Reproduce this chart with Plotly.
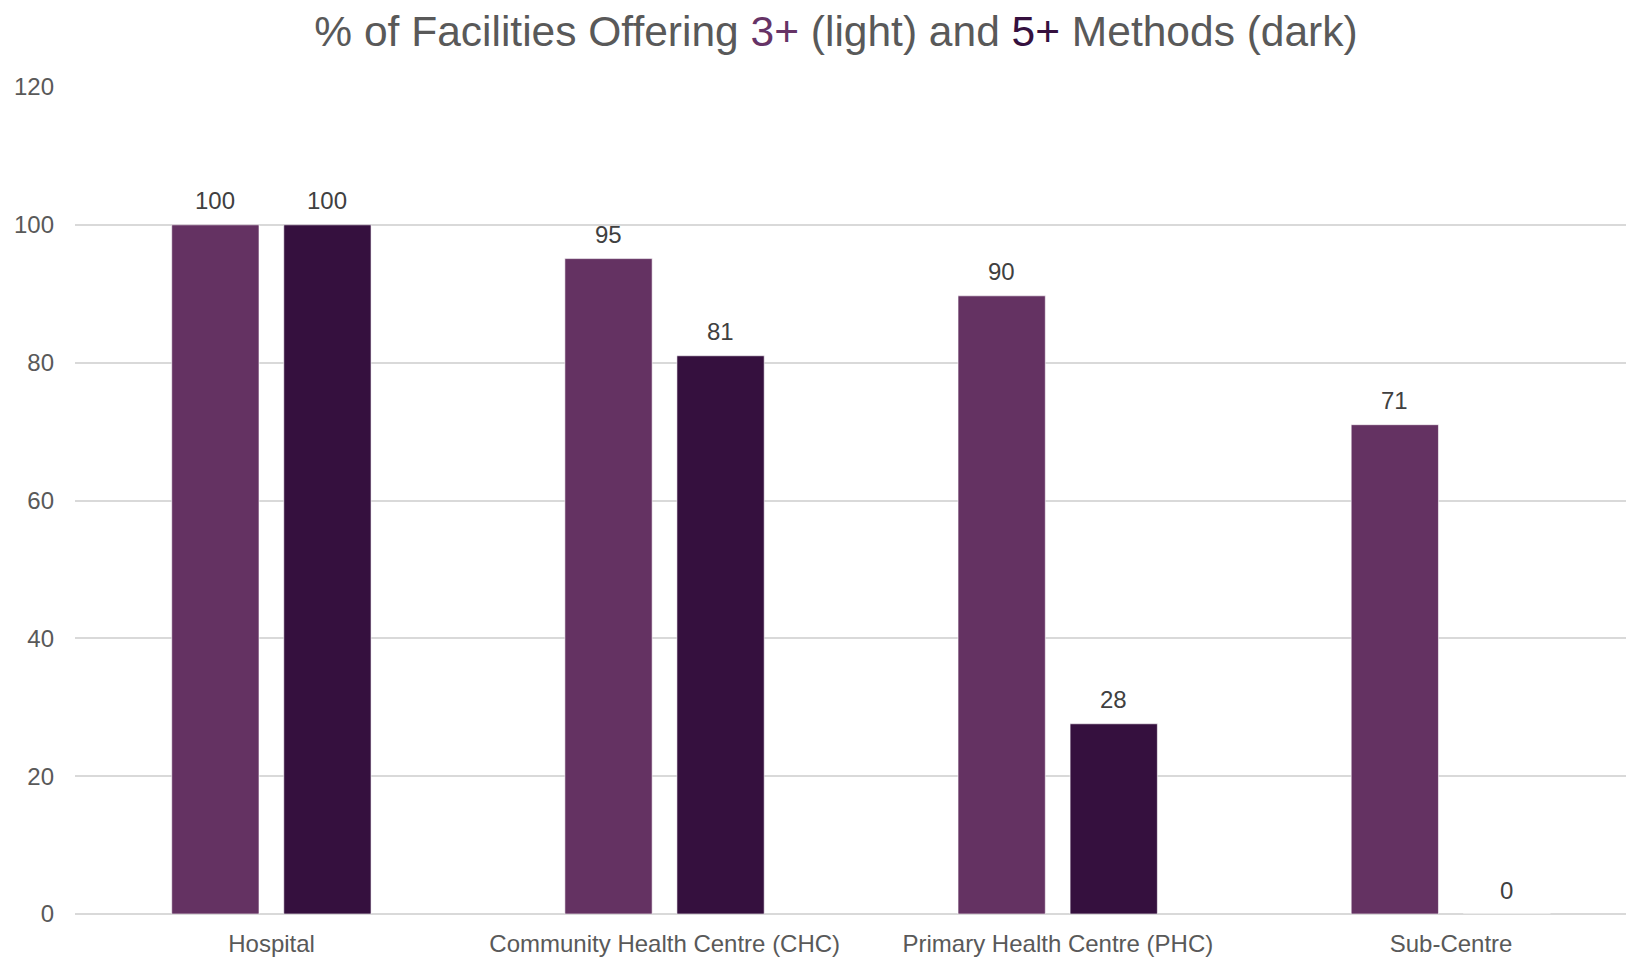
import plotly.graph_objects as go

categories = ["Hospital", "Community Health Centre (CHC)", "Primary Health Centre (PHC)", "Sub-Centre"]
three_plus = [100, 95.1, 89.7, 71]
five_plus = [100, 81, 27.6, 0]

LIGHT = "#643262"
DARK = "#35103e"
BAR_W = 0.222
OFF_LIGHT = -0.254
OFF_DARK = 0.031

fig = go.Figure()
fig.add_trace(go.Bar(
    x=categories, y=three_plus, name="3+ methods",
    marker=dict(color=LIGHT, line=dict(color="rgba(255,255,255,0.6)", width=1)),
    width=BAR_W, offset=OFF_LIGHT,
))
fig.add_trace(go.Bar(
    x=categories, y=five_plus, name="5+ methods",
    marker=dict(color=DARK, line=dict(color="rgba(255,255,255,0.6)", width=1)),
    width=BAR_W, offset=OFF_DARK,
))

for series, off in ((three_plus, OFF_LIGHT), (five_plus, OFF_DARK)):
    for i, v in enumerate(series):
        fig.add_annotation(
            x=i + off + BAR_W / 2, y=v, xref="x", yref="y",
            text=str(round(v)), showarrow=False,
            xanchor="center", yanchor="middle", yshift=24,
            font=dict(size=24, color="#404040", family="Liberation Sans, Arial"),
        )

fig.update_layout(
    width=1626, height=957,
    paper_bgcolor="white", plot_bgcolor="white",
    margin=dict(l=75, r=0, t=87, b=43),
    showlegend=False,
    font=dict(family="Liberation Sans, Arial", color="#595959"),
    title=dict(
        text="% of Facilities Offering <span style='color:#663366'>3+</span> (light) and "
             "<span style='color:#35103e'>5+</span> Methods (dark)",
        x=836 / 1626, xanchor="center", xref="container",
        y=1 - 31 / 957, yanchor="middle", yref="container",
        font=dict(size=42.5, color="#595959", family="Liberation Sans, Arial"),
    ),
    xaxis=dict(
        range=[-0.5, 3.445],
        showgrid=False, showline=False, zeroline=False,
        ticks="", tickfont=dict(size=24, color="#595959"),
        ticklabelstandoff=13,
    ),
    yaxis=dict(
        range=[0, 120], dtick=20,
        showgrid=True, gridcolor="#d9d9d9", gridwidth=1.5,
        zeroline=True, zerolinecolor="#d9d9d9", zerolinewidth=2,
        showline=False, ticks="",
        tickfont=dict(size=24, color="#595959"),
        ticklabelstandoff=20,
    ),
)

fig.write_html("out.html")
